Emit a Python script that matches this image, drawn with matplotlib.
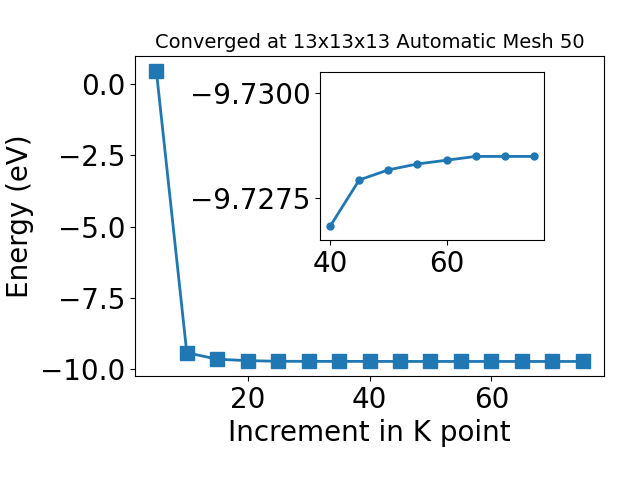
import matplotlib
matplotlib.use("Agg")
import matplotlib.pyplot as plt

kpoints = [5, 10, 15, 20, 25, 30, 35, 40, 45, 50, 55, 60, 65, 70, 75]
energy = [0.48, -9.42, -9.65, -9.70, -9.722, -9.725, -9.726,
          -9.72683, -9.72793, -9.72817, -9.72831, -9.72840, -9.72849, -9.72849, -9.72849]

inset_k = kpoints[7:]
inset_e = energy[7:]

fig = plt.figure(figsize=(6.4, 4.8), dpi=100)
ax = fig.add_axes([135/640, 104/480, 469/640, (376-56)/480])
ax.plot(kpoints, energy, marker='s', markersize=10, linewidth=2, color='#1f77b4')
ax.set_xlabel('Increment in K point', fontsize=20)
ax.set_ylabel('Energy (eV)', fontsize=20)
ax.set_title('Converged at 13x13x13 Automatic Mesh 50', fontsize=14)
ax.tick_params(labelsize=20)
ax.set_xticks([20, 40, 60])
ax.set_yticks([0.0, -2.5, -5.0, -7.5, -10.0])

ins = fig.add_axes([320/640, (480-240)/480, 224/640, 168/480])
ins.plot(inset_k, inset_e, marker='o', markersize=5, linewidth=2, color='#1f77b4')
ins.set_ylim(-9.7265, -9.7305)
ins.set_yticks([-9.7300, -9.7275])
ins.set_yticklabels(['\u22129.7300', '\u22129.7275'])
ins.set_xticks([40, 60])
ins.tick_params(labelsize=20)

fig.savefig('out.png', dpi=100)
